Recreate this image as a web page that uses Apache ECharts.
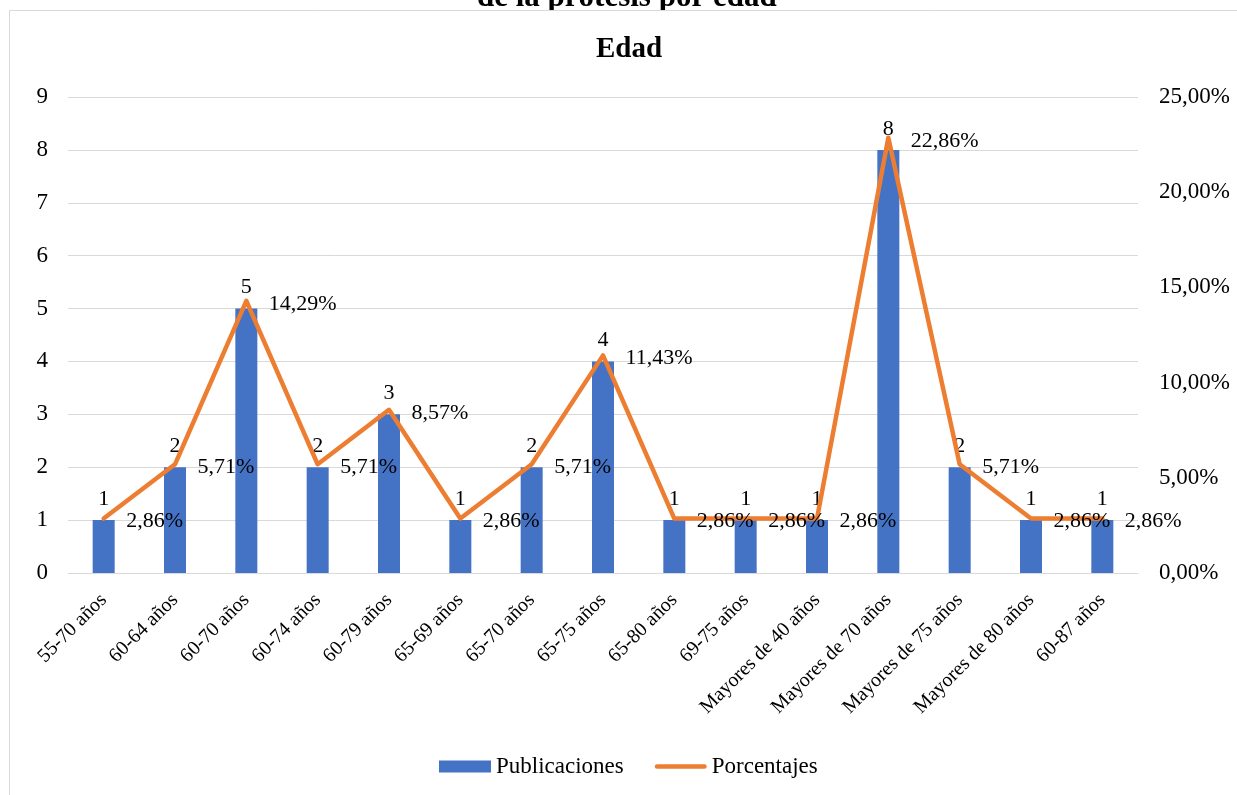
<!DOCTYPE html>
<html>
<head>
<meta charset="utf-8">
<script src="https://cdn.jsdelivr.net/npm/echarts@6/dist/echarts.min.js"></script>
<style>
  html, body { margin: 0; padding: 0; background: #fff; }
  #chart { width: 1237px; height: 795px; }
</style>
</head>
<body>
<div id="chart"></div>
<script>
// Age ranges reported across the reviewed publications
const categories = [
  '55-70 años', '60-64 años', '60-70 años', '60-74 años', '60-79 años',
  '65-69 años', '65-70 años', '65-75 años', '65-80 años', '69-75 años',
  'Mayores de 40 años', 'Mayores de 70 años', 'Mayores de 75 años',
  'Mayores de 80 años', '60-87 años'
];
// Number of publications per age range
const publicaciones = [1, 2, 5, 2, 3, 1, 2, 4, 1, 1, 1, 8, 2, 1, 1];
// Share of the total, in percent
const porcentajes = [2.86, 5.71, 14.29, 5.71, 8.57, 2.86, 5.71, 11.43, 2.86, 2.86, 2.86, 22.86, 5.71, 2.86, 2.86];

const FONT = '"Liberation Serif", "Times New Roman", serif';
const pct = v => v.toFixed(2).replace('.', ',') + '%';

const chart = echarts.init(document.getElementById('chart'));
chart.setOption({
  animation: false,
  textStyle: { fontFamily: FONT, color: '#000' },
  graphic: [
    {
      // heading of the page above the chart frame; the frame hides its lower part
      type: 'text', silent: true, left: 477, top: -18, z: -2,
      style: { text: 'de la prótesis por edad', font: 'bold 31px ' + FONT, fill: '#000' }
    },
    {
      type: 'rect', silent: true, z: -1,
      shape: { x: 9.5, y: 10.5, width: 1300, height: 900 },
      style: { fill: '#fff', stroke: '#d9d9d9', lineWidth: 1 }
    },
    {
      type: 'text', silent: true, left: 596, top: 35,
      style: { text: 'Edad', font: 'bold 29px ' + FONT, fill: '#000' }
    }
  ],
  legend: {
    left: 434, top: 750,
    itemWidth: 52, itemHeight: 12, itemGap: 31,
    textStyle: { fontFamily: FONT, fontSize: 23, color: '#000' },
    data: [
      { name: 'Publicaciones', icon: 'rect' },
      { name: 'Porcentajes', icon: 'path://M2.5,0 L53.5,0 A2.5,2.5 0 0 1 53.5,5 L2.5,5 A2.5,2.5 0 0 1 2.5,0 Z' }
    ]
  },
  grid: { left: 68, right: 99, top: 97, bottom: 222 },
  xAxis: {
    type: 'category',
    data: categories,
    axisLine: { lineStyle: { color: '#d9d9d9', width: 1 } },
    axisTick: { show: false },
    axisLabel: { rotate: 45, fontSize: 20, color: '#000', fontFamily: FONT, margin: 24, interval: 0 }
  },
  yAxis: [
    {
      type: 'value', min: 0, max: 9, interval: 1,
      axisLabel: { fontSize: 23, color: '#000', fontFamily: FONT, margin: 20 },
      splitLine: { lineStyle: { color: '#d9d9d9', width: 1 } },
      axisLine: { show: false }, axisTick: { show: false }
    },
    {
      type: 'value', min: 0, max: 25, interval: 5,
      axisLabel: { fontSize: 23, color: '#000', fontFamily: FONT, margin: 21, formatter: pct },
      splitLine: { show: false },
      axisLine: { show: false }, axisTick: { show: false }
    }
  ],
  series: [
    {
      name: 'Publicaciones',
      type: 'bar',
      data: publicaciones,
      barWidth: 22,
      itemStyle: { color: '#4472C4' },
      label: { show: true, position: 'top', distance: 10, fontSize: 22, color: '#000', fontFamily: FONT }
    },
    {
      name: 'Porcentajes',
      type: 'line',
      yAxisIndex: 1,
      data: porcentajes,
      symbol: 'circle',
      symbolSize: 1,
      itemStyle: { color: '#ED7D31' },
      lineStyle: { color: '#ED7D31', width: 4.5, join: 'round', cap: 'round' },
      label: {
        show: true, position: 'right', distance: 22, offset: [0, 3],
        fontSize: 22, color: '#000', fontFamily: FONT,
        formatter: p => pct(p.value)
      },
      z: 3
    }
  ]
});
</script>
</body>
</html>
